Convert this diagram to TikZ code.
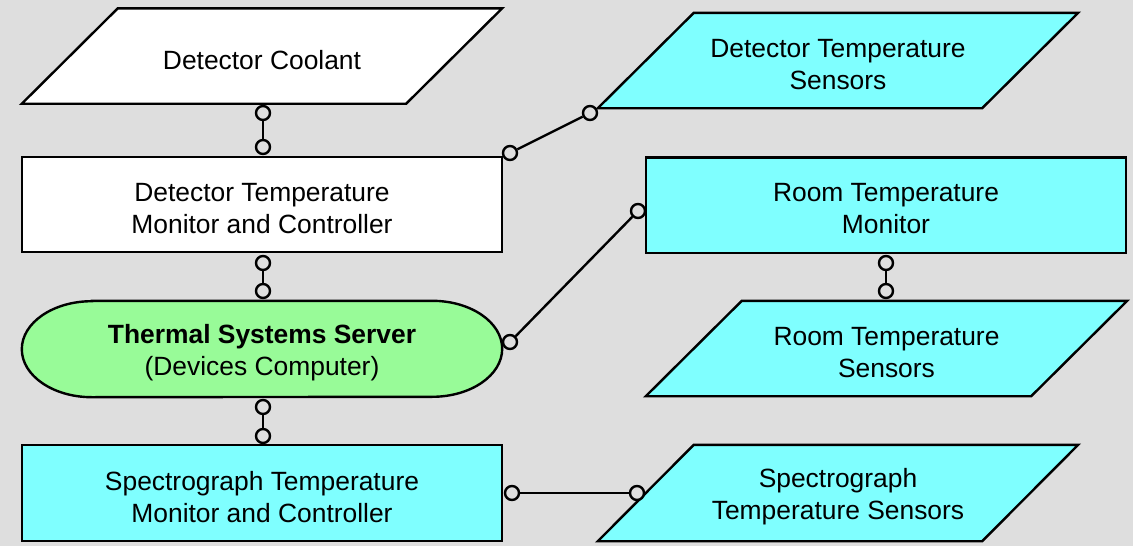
\documentclass[tikz,border=0pt]{standalone}
\usepackage{fontspec}
\setmainfont{Liberation Sans}
\pgfdeclarelayer{bgl}
\pgfdeclarelayer{shp}
\pgfsetlayers{bgl,shp,main}
\definecolor{bggray}{RGB}{222,222,222}
\definecolor{cyanfill}{RGB}{127,255,255}
\definecolor{greenfill}{RGB}{152,251,152}
\def\tdrop{3.75pt}
\tikzset{
  outline/.style={draw=black,line width=2.4pt,line join=miter},
  txt/.style={font=\fontsize{26.4}{32}\selectfont,align=center,inner sep=0pt,yshift=-\tdrop},
  parabox/.style={txt,rectangle,minimum width=384pt,minimum height=95pt},
  rectbox/.style={txt,rectangle,minimum width=480pt,minimum height=95pt},
  stadbox/.style={txt,rectangle,minimum width=480pt,minimum height=96pt},
  knob/.style={circle,draw=black,fill=bggray,line width=2.4pt,minimum size=14pt,inner sep=0pt},
  conn/.style={draw=black,line width=2.4pt}
}
\newcommand\paraout[2]{%
  \begin{pgfonlayer}{shp}
  \draw[outline,fill=#2] ([xshift=48pt,yshift=\tdrop]#1.north west) -- ([xshift=48pt,yshift=\tdrop]#1.north east)
     -- ([xshift=-48pt,yshift=\tdrop]#1.south east) -- ([xshift=-48pt,yshift=\tdrop]#1.south west) -- cycle;
  \end{pgfonlayer}}
\newcommand\rectout[2]{%
  \begin{pgfonlayer}{shp}
  \draw[outline,fill=#2] ([yshift=\tdrop]#1.north west) rectangle ([yshift=\tdrop]#1.south east);
  \end{pgfonlayer}}
\begin{document}
\begin{tikzpicture}[x=1pt,y=-1pt]
\begin{pgfonlayer}{bgl}
\fill[bggray] (0,0) rectangle (1133,546);
\end{pgfonlayer}
\useasboundingbox (0,0) rectangle (1133,546);

% left column
\node[parabox] (coolant) at (262,56) {Detector Coolant};
\paraout{coolant}{white}
\node[rectbox] (dtmc) at (262,204.5) {Detector Temperature\\Monitor and Controller};
\rectout{dtmc}{white}
\node[stadbox] (tss) at (262,349) {\textbf{Thermal Systems Server}\\(Devices Computer)};
\begin{pgfonlayer}{shp}
\draw[outline,fill=greenfill] ([xshift=70pt,yshift=\tdrop]tss.north west) -- ([xshift=-70pt,yshift=\tdrop]tss.north east)
  arc[start angle=90,end angle=-90,x radius=70pt,y radius=48pt]
  -- ([xshift=70pt,yshift=\tdrop]tss.south west)
  arc[start angle=270,end angle=90,x radius=70pt,y radius=48pt] -- cycle;
\end{pgfonlayer}
\node[rectbox,minimum height=96pt] (stmc) at (262,493) {Spectrograph Temperature\\Monitor and Controller};
\rectout{stmc}{cyanfill}

% right column
\node[parabox] (dts) at (838,60.5) {Detector Temperature\\Sensors};
\paraout{dts}{cyanfill}
\node[rectbox] (rtm) at (886,205) {Room Temperature\\Monitor};
\rectout{rtm}{cyanfill}
\node[parabox,minimum width=385pt] (rts) at (886.5,348.5) {Room Temperature\\Sensors};
\paraout{rts}{cyanfill}
\node[parabox,minimum height=96pt] (sts) at (838,493) {Spectrograph\\Temperature Sensors};
\paraout{sts}{cyanfill}

% connector end knobs
\node[knob] (k1a) at (263,113) {};
\node[knob] (k1b) at (263,147) {};
\node[knob] (k2a) at (510,153) {};
\node[knob] (k2b) at (590,113) {};
\node[knob] (k3a) at (263,263) {};
\node[knob] (k3b) at (263,291) {};
\node[knob] (k4a) at (510,342) {};
\node[knob] (k4b) at (638,211) {};
\node[knob] (k5a) at (886,263) {};
\node[knob] (k5b) at (886,291) {};
\node[knob] (k6a) at (263,407) {};
\node[knob] (k6b) at (263,436) {};
\node[knob] (k7a) at (512,493) {};
\node[knob] (k7b) at (637,493) {};

\draw[conn] (k1a) -- (k1b);
\draw[conn] (k2a) -- (k2b);
\draw[conn] (k3a) -- (k3b);
\draw[conn] (k4a) -- (k4b);
\draw[conn] (k5a) -- (k5b);
\draw[conn] (k6a) -- (k6b);
\draw[conn] (k7a) -- (k7b);
\end{tikzpicture}
\end{document}
